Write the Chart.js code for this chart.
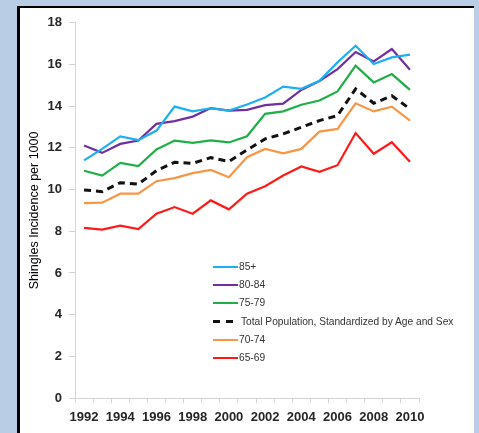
<!DOCTYPE html>
<html>
<head>
<meta charset="utf-8">
<script src="https://cdn.jsdelivr.net/npm/chart.js@4"></script>
<style>
  html, body { margin: 0; padding: 0; }
  body { width: 479px; height: 433px; background: #b9cde5; position: relative; overflow: hidden; }
  #panel { position: absolute; left: 17px; top: 6px; width: 454px; height: 430px; background: #fff;
           border-left: 3px solid #000; border-top: 2px solid #000; }
  #wrap { position: absolute; left: 0; top: 0; width: 454px; height: 425px; }
  #legend { position: absolute; left: 0; top: 0; font-family: "Liberation Sans", Arial, sans-serif; font-size: 10.2px; color: #333; }
  .row { position: absolute; white-space: nowrap; height: 12px; }
  .sample { position: absolute; left: 0; top: 5px; width: 25px; height: 0; }
  .txt { position: absolute; top: 0; line-height: 12px; }
</style>
</head>
<body>
<div id="panel">
  <div id="wrap"><canvas id="shinglesChart"></canvas></div>
  <div id="legend"></div>
</div>
<script>
var years = ['1992','1993','1994','1995','1996','1997','1998','1999','2000','2001','2002','2003','2004','2005','2006','2007','2008','2009','2010'];
var age85 = [11.4, 11.95, 12.55, 12.37, 12.83, 13.98, 13.75, 13.9, 13.79, 14.08, 14.42, 14.94, 14.83, 15.22, 16.1, 16.9, 16.02, 16.34, 16.47];
var age80 = [12.11, 11.76, 12.19, 12.35, 13.15, 13.28, 13.5, 13.91, 13.79, 13.82, 14.05, 14.12, 14.78, 15.2, 15.78, 16.6, 16.15, 16.74, 15.75];
var age75 = [10.9, 10.67, 11.28, 11.13, 11.92, 12.35, 12.24, 12.36, 12.26, 12.56, 13.63, 13.75, 14.07, 14.27, 14.71, 15.94, 15.14, 15.54, 14.78];
var total = [9.98, 9.9, 10.33, 10.26, 10.91, 11.31, 11.26, 11.53, 11.35, 11.9, 12.43, 12.67, 12.99, 13.31, 13.55, 14.83, 14.14, 14.5, 13.87];
var age70 = [9.35, 9.37, 9.8, 9.8, 10.4, 10.55, 10.79, 10.94, 10.59, 11.55, 11.95, 11.74, 11.95, 12.78, 12.91, 14.14, 13.75, 13.98, 13.31];
var age65 = [8.16, 8.08, 8.27, 8.1, 8.84, 9.16, 8.84, 9.48, 9.05, 9.8, 10.16, 10.67, 11.11, 10.85, 11.17, 12.71, 11.72, 12.27, 11.33];
var seriesNames = ['85+', '80-84', '75-79', 'Total Population, Standardized by Age and Sex', '70-74', '65-69'];
var seriesColors = ['#1cb0f0', '#7030a0', '#1fae48', '#111111', '#f79646', '#ff1a1a'];

var shinglesChart = function () {
    var init = function () {
        var allData = [age85, age80, age75, total, age70, age65];
        var datasets = allData.map(function (d, i) {
            var isTotal = i === 3;
            return {
                label: seriesNames[i],
                data: d,
                borderColor: seriesColors[i],
                backgroundColor: seriesColors[i],
                borderWidth: isTotal ? 3 : 2.2,
                borderDash: isTotal ? [7, 5] : [],
                pointRadius: 0,
                tension: 0,
                fill: false
            };
        });

        var tickFont = { family: 'Liberation Sans', size: 13, weight: 'bold' };

        new Chart('shinglesChart', {
            type: 'line',
            data: { labels: years, datasets: datasets },
            options: {
                responsive: true,
                maintainAspectRatio: false,
                animation: false,
                layout: { padding: { top: 14, right: 55, left: 0, bottom: 0 } },
                plugins: { legend: { display: false }, tooltip: { enabled: false } },
                scales: {
                    x: {
                        type: 'category',
                        offset: true,
                        afterFit: function (scale) { scale.height = 35; },
                        grid: { offset: true, drawOnChartArea: false, tickLength: 5, color: '#d4d4d4' },
                        border: { color: '#d4d4d4', width: 1 },
                        ticks: {
                            autoSkip: false,
                            maxRotation: 0,
                            padding: 7,
                            color: '#262626',
                            font: tickFont,
                            callback: function (val, idx) { return idx % 2 === 0 ? years[idx] : ''; }
                        }
                    },
                    y: {
                        min: 0,
                        max: 18,
                        afterFit: function (scale) { scale.width = 55; },
                        grid: { drawOnChartArea: false, tickLength: 6, color: '#d4d4d4' },
                        border: { color: '#d4d4d4', width: 1 },
                        ticks: { stepSize: 2, padding: 7, color: '#262626', font: tickFont },
                        title: {
                            display: true,
                            text: 'Shingles Incidence per 1000',
                            color: '#000',
                            font: { family: 'Liberation Sans', size: 12.5 },
                            padding: { top: 7, bottom: 0 }
                        }
                    }
                }
            }
        });

        // legend inside the plot, one row per series
        var legend = document.getElementById('legend');
        seriesNames.forEach(function (name, i) {
            var row = document.createElement('div');
            row.className = 'row';
            row.style.left = (213 - 20) + 'px';
            row.style.top = (261 - 8 + i * 18.2) + 'px';
            var sample = document.createElement('div');
            sample.className = 'sample';
            if (i === 3) {
                sample.style.borderTop = '3px dashed ' + seriesColors[i];
                sample.style.width = '20px';
                sample.style.top = '4.5px';
                sample.style.borderImage = 'repeating-linear-gradient(90deg,' + seriesColors[i] + ' 0 7px, transparent 7px 13px) 1';
            } else {
                sample.style.borderTop = '2.5px solid ' + seriesColors[i];
            }
            var txt = document.createElement('div');
            txt.className = 'txt';
            txt.style.left = (i === 3 ? 28 : 26) + 'px';
            txt.textContent = name;
            row.appendChild(sample);
            row.appendChild(txt);
            legend.appendChild(row);
        });
    };

    return { init: init };
}();

shinglesChart.init();
</script>
</body>
</html>
